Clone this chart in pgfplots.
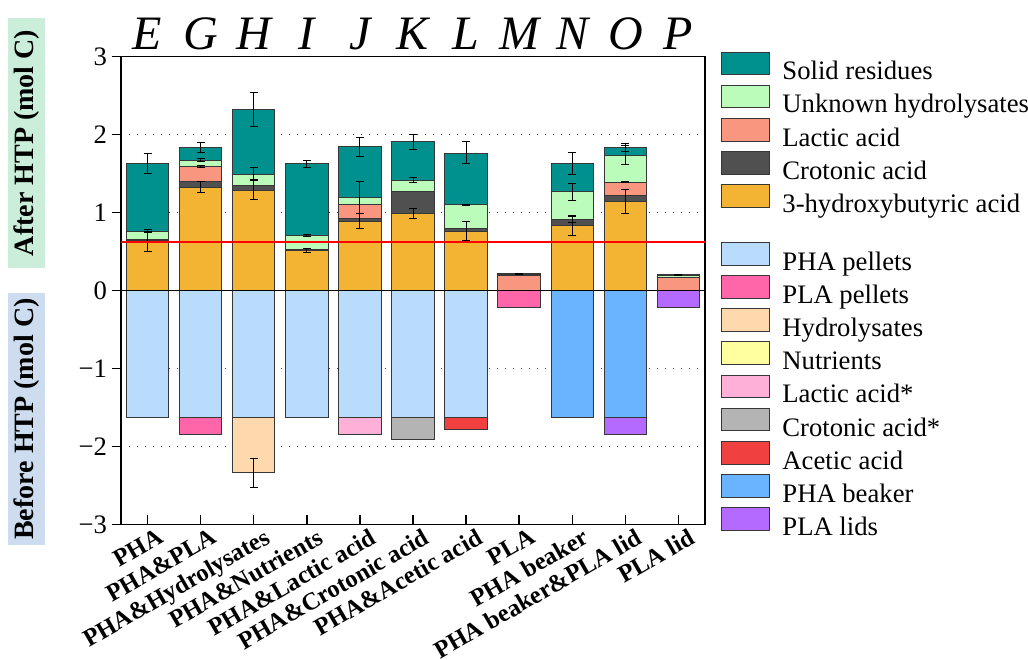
\documentclass[border=0pt]{standalone}
\usepackage{pgfplots}
\pgfplotsset{compat=1.18}
\usepackage{pgfplotstable}
\usepackage{fontspec}
\setmainfont{Liberation Serif}

\definecolor{csol}{RGB}{0,145,143}
\definecolor{cunk}{RGB}{187,252,187}
\definecolor{clac}{RGB}{249,150,128}
\definecolor{ccro}{RGB}{80,80,80}
\definecolor{chb}{RGB}{242,180,50}
\definecolor{cpha}{RGB}{185,220,252}
\definecolor{cpla}{RGB}{255,102,170}
\definecolor{chyd}{RGB}{253,217,173}
\definecolor{cnut}{RGB}{255,255,160}
\definecolor{clacs}{RGB}{255,176,216}
\definecolor{ccros}{RGB}{180,180,180}
\definecolor{cace}{RGB}{240,64,64}
\definecolor{cbeak}{RGB}{106,180,255}
\definecolor{clids}{RGB}{180,106,255}
\definecolor{edge}{RGB}{55,55,55}
\definecolor{greenbg}{RGB}{202,238,218}
\definecolor{bluebg}{RGB}{205,220,238}

\pgfplotstableread{
x hb cro lac unk sol
0 0.641 0.009 0 0.102 0.872
1 1.325 0.068 0.197 0.085 0.163
2 1.286 0.064 0 0.141 0.834
3 0.509 0.021 0 0.179 0.915
4 0.889 0.038 0.171 0.094 0.650
5 0.987 0.287 0 0.136 0.496
6 0.761 0.034 0 0.303 0.663
7 0 0 0.192 0.020 0.006
8 0.833 0.082 0 0.350 0.359
9 1.141 0.081 0.167 0.346 0.103
10 0 0 0.171 0.025 0.006
}\posdata

\pgfplotstableread{
x pha pla hyd nut lacs cros ace beak lids
0 -1.628 0 0 0 0 0 0 0 0
1 -1.628 -0.214 0 0 0 0 0 0 0
2 -1.628 0 -0.700 0 0 0 0 0 0
3 -1.628 0 0 0 0 0 0 0 0
4 -1.628 0 0 0 -0.222 0 0 0 0
5 -1.628 0 0 0 0 -0.286 0 0 0
6 -1.628 0 0 0 0 0 -0.150 0 0
7 0 -0.214 0 0 0 0 0 0 0
8 0 0 0 0 0 0 0 -1.628 0
9 0 0 0 0 0 0 0 -1.628 -0.214
10 0 0 0 0 0 0 0 0 -0.214
}\negdata

\pgfplotstableread{
x y e
0 1.628 0.132
0 0.640 0.140
0 0.752 0.010
1 1.838 0.066
1 1.675 0.015
1 1.590 0.010
1 1.333 0.070
2 2.327 0.220
2 1.496 0.081
2 1.295 0.124
2 -2.338 0.188
3 1.626 0.045
3 0.709 0.013
3 0.509 0.026
4 1.846 0.124
4 1.094 0.300
4 0.889 0.098
5 1.910 0.098
5 1.417 0.032
5 0.989 0.062
6 1.769 0.137
6 1.098 0.010
6 0.765 0.120
7 0.210 0.006
8 1.626 0.139
8 1.267 0.109
8 0.915 0.040
8 0.831 0.130
9 1.838 0.050
9 1.739 0.128
9 1.389 0.008
9 1.141 0.150
10 0.200 0.004
}\errdata

\pgfplotsset{
  bar/.style={fill=#1, draw=edge, line width=0.75pt,
    legend image code/.code={\draw[##1] (0pt,-1.7pt) rectangle (36pt,15.3pt);}},
  common/.style={scale only axis, width=438pt, height=350.85pt,
    xmin=-0.5, xmax=10.5, ymin=-3, ymax=3, at={(0pt,0pt)}, anchor=south west},
  leg/.style={legend cell align=left,
    legend style={draw=none, fill=none, inner sep=0pt, outer sep=0pt,
      row sep=-0.8pt, column sep=9.5pt, font=\fontsize{20}{24}\selectfont,
      nodes={inner sep=0pt, text height=15.5pt, text depth=4.5pt}}}
}

\begin{document}
\begin{tikzpicture}
\begin{axis}[common, leg, ybar stacked, bar width=0.8,
  axis line style={line width=1.1pt},
  xtick={0,...,10},
  xticklabels={PHA, PHA\&PLA, PHA\&Hydrolysates, PHA\&Nutrients, PHA\&Lactic acid, PHA\&Crotonic acid, PHA\&Acetic acid, PLA, PHA beaker, PHA beaker\&PLA lid, PLA lid},
  ytick={-3,...,3}, yticklabels={−3,−2,−1,0,1,2,3},
  xtick pos=bottom, ytick pos=left, xtick align=inside, ytick align=outside,
  major tick length=7pt,
  tick style={line width=1.1pt, black},
  yticklabel style={font=\fontsize{20}{24}\selectfont},
  xticklabel style={font=\bfseries\fontsize{18.5}{20}\selectfont, inner sep=0pt,
    xshift=7pt, yshift=-2pt, rotate=30, anchor=north east},
  ymajorgrids, grid style={dash pattern=on 1pt off 5pt, line width=1pt, black!75},
  reverse legend,
  legend style={at={(1.027,1.011)}, anchor=north west},
]
\addplot[bar=chb] table[x=x,y=hb]{\posdata}; \addlegendentry{3-hydroxybutyric acid}
\addplot[bar=ccro] table[x=x,y=cro]{\posdata}; \addlegendentry{Crotonic acid}
\addplot[bar=clac] table[x=x,y=lac]{\posdata}; \addlegendentry{Lactic acid}
\addplot[bar=cunk] table[x=x,y=unk]{\posdata}; \addlegendentry{Unknown hydrolysates}
\addplot[bar=csol] table[x=x,y=sol]{\posdata}; \addlegendentry{Solid residues}
\end{axis}

\begin{axis}[common, leg, hide axis, ybar stacked, bar width=0.8,
  legend style={at={(1.027,0.604)}, anchor=north west},
]
\addplot[bar=cpha] table[x=x,y=pha]{\negdata}; \addlegendentry{PHA pellets}
\addplot[bar=cpla] table[x=x,y=pla]{\negdata}; \addlegendentry{PLA pellets}
\addplot[bar=chyd] table[x=x,y=hyd]{\negdata}; \addlegendentry{Hydrolysates}
\addplot[bar=cnut] table[x=x,y=nut]{\negdata}; \addlegendentry{Nutrients}
\addplot[bar=clacs] table[x=x,y=lacs]{\negdata}; \addlegendentry{Lactic acid*}
\addplot[bar=ccros] table[x=x,y=cros]{\negdata}; \addlegendentry{Crotonic acid*}
\addplot[bar=cace] table[x=x,y=ace]{\negdata}; \addlegendentry{Acetic acid}
\addplot[bar=cbeak] table[x=x,y=beak]{\negdata}; \addlegendentry{PHA beaker}
\addplot[bar=clids] table[x=x,y=lids]{\negdata}; \addlegendentry{PLA lids}
\end{axis}

\begin{axis}[common, hide axis]
\addplot[draw=none, mark=none, forget plot,
  error bars/.cd, y dir=both, y explicit,
  error bar style={draw=black, line width=0.75pt},
  error mark options={draw=black, rotate=90, mark size=3pt, line width=0.75pt}]
  table[x=x, y=y, y error=e]{\errdata};
\addplot[red, line width=1.5pt, mark=none] coordinates {(-0.5,0.624) (10.5,0.624)};
\addplot[black, line width=1.1pt, mark=none] coordinates {(-0.5,0) (10.5,0)};
\end{axis}

\foreach \lt [count=\i from 0] in {E,G,H,I,J,K,L,M,N,O,P}
  \node[anchor=base, inner sep=0pt, font=\itshape\fontsize{36}{36}\selectfont]
    at ({(\i+0.5)*39.818pt}, 356.4pt) {\lt};

\node[rotate=90, fill=greenbg, minimum width=187.5pt, minimum height=27.75pt, inner sep=0pt,
  font=\bfseries\fontsize{21}{21}\selectfont] at (-70.9pt, 286.1pt) {After HTP (mol C)};
\node[rotate=90, fill=bluebg, minimum width=189pt, minimum height=27.75pt, inner sep=0pt,
  font=\bfseries\fontsize{21}{21}\selectfont] at (-70.9pt, 79.1pt) {Before HTP (mol C)};

\pgfresetboundingbox
\path[use as bounding box] (-90.75pt,-101.625pt) rectangle (680.25pt,393.375pt);
\end{tikzpicture}
\end{document}
